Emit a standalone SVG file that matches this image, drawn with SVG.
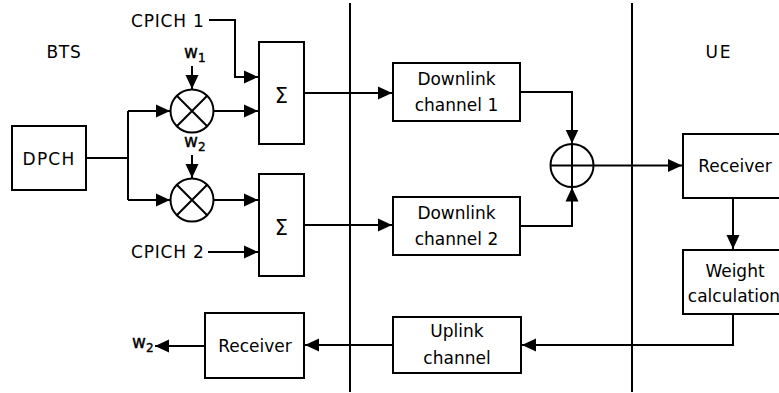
<svg xmlns="http://www.w3.org/2000/svg" width="779" height="393" viewBox="0 0 779 393">
<style>
.bx{fill:#fff;stroke:#000;stroke-width:2}
.ln{fill:none;stroke:#000;stroke-width:2}
.ar{fill:none;stroke:#000;stroke-width:2;marker-end:url(#ah)}
.t{font-family:"DejaVu Sans",Verdana,sans-serif;font-size:17px;fill:#000}
.m{text-anchor:middle}
.c{letter-spacing:0.8px}
.sg{font-size:21px}
.w{font-family:"DejaVu Sans",sans-serif;font-size:17px;fill:#000;stroke:#000;stroke-width:0.4}
.s{font-size:12px}
</style>
<defs>
<marker id="ah" markerUnits="userSpaceOnUse" markerWidth="15" markerHeight="14" refX="14" refY="7" orient="auto">
<path d="M0,0.5 L14,7 L0,13.5 z" fill="#000"/>
</marker>
</defs>
<rect width="779" height="393" fill="#fff"/>
<g id="dividers">
<line class="ln" x1="350" y1="3" x2="350" y2="392"/>
<line class="ln" x1="632" y1="3" x2="632" y2="392"/>
</g>
<g id="labels">
<text class="t m c" x="64" y="58">BTS</text>
<text class="t m" x="719" y="58" style="letter-spacing:2px">UE</text>
<text class="t c" x="131" y="27">CPICH 1</text>
<text class="t c" x="131" y="258">CPICH 2</text>
<text class="w" x="184" y="58">w<tspan class="s" dy="4">1</tspan></text>
<text class="w" x="184" y="147">w<tspan class="s" dy="4">2</tspan></text>
<text class="w" x="132" y="348">w<tspan class="s" dy="4">2</tspan></text>
</g>
<g id="connectors">
<path class="ln" d="M86,158 H128 M128,111 V200"/>
<path class="ar" d="M128,111 H170"/>
<path class="ar" d="M128,200 H170"/>
<path class="ar" d="M192,66 V89"/>
<path class="ar" d="M192,155 V178"/>
<path class="ar" d="M213.5,111 H258"/>
<path class="ar" d="M213.5,200 H258"/>
<path class="ar" d="M209,20 H235 V77 H258"/>
<path class="ar" d="M208,252 H258"/>
<path class="ar" d="M304,93 H392"/>
<path class="ar" d="M304,225 H392"/>
<path class="ar" d="M520,92 H572 V143.5"/>
<path class="ar" d="M520,226 H572 V187.5"/>
<path class="ar" d="M593.5,165.5 H682"/>
<path class="ar" d="M733,198 V249"/>
<path class="ar" d="M733,314 V345 H522"/>
<path class="ar" d="M393,345 H305"/>
<path class="ar" d="M205,346 H155"/>
</g>
<g id="dpch">
<rect class="bx" x="12" y="126" width="74" height="64"/>
<text class="t m" x="49" y="165" style="letter-spacing:1.2px">DPCH</text>
</g>
<g id="mult1">
<circle class="bx" cx="192" cy="111" r="21.5"/>
<path class="ln" d="M176.8,95.8 L207.2,126.2 M207.2,95.8 L176.8,126.2"/>
</g>
<g id="mult2">
<circle class="bx" cx="192" cy="200" r="21.5"/>
<path class="ln" d="M176.8,184.8 L207.2,215.2 M207.2,184.8 L176.8,215.2"/>
</g>
<g id="sum1">
<rect class="bx" x="259" y="42" width="45" height="102"/>
<text class="t m sg" x="281.5" y="103">Σ</text>
</g>
<g id="sum2">
<rect class="bx" x="259" y="174" width="45" height="102"/>
<text class="t m sg" x="281.5" y="235">Σ</text>
</g>
<g id="dl1">
<rect class="bx" x="393" y="63" width="127" height="58"/>
<text class="t m" x="456.5" y="85">Downlink</text>
<text class="t m" x="456.5" y="111">channel 1</text>
</g>
<g id="dl2">
<rect class="bx" x="393" y="197" width="127" height="58"/>
<text class="t m" x="456.5" y="219">Downlink</text>
<text class="t m" x="456.5" y="245">channel 2</text>
</g>
<g id="adder">
<circle class="bx" cx="572" cy="165.5" r="21.5"/>
<path class="ln" d="M550.5,165.5 H593.5 M572,144 V187"/>
</g>
<g id="ul">
<rect class="bx" x="393" y="317" width="128" height="56"/>
<text class="t m" x="457" y="337">Uplink</text>
<text class="t m" x="457" y="364">channel</text>
</g>
<g id="rx_bts">
<rect class="bx" x="205" y="313" width="99" height="65"/>
<text class="t m" x="255" y="352">Receiver</text>
</g>
<g id="rx_ue">
<rect class="bx" x="683" y="134" width="105" height="64"/>
<text class="t m" x="735" y="172">Receiver</text>
</g>
<g id="weight">
<rect class="bx" x="683" y="250" width="105" height="64"/>
<text class="t m" x="735" y="277">Weight</text>
<text class="t m" x="734" y="302">calculation</text>
</g>
</svg>
